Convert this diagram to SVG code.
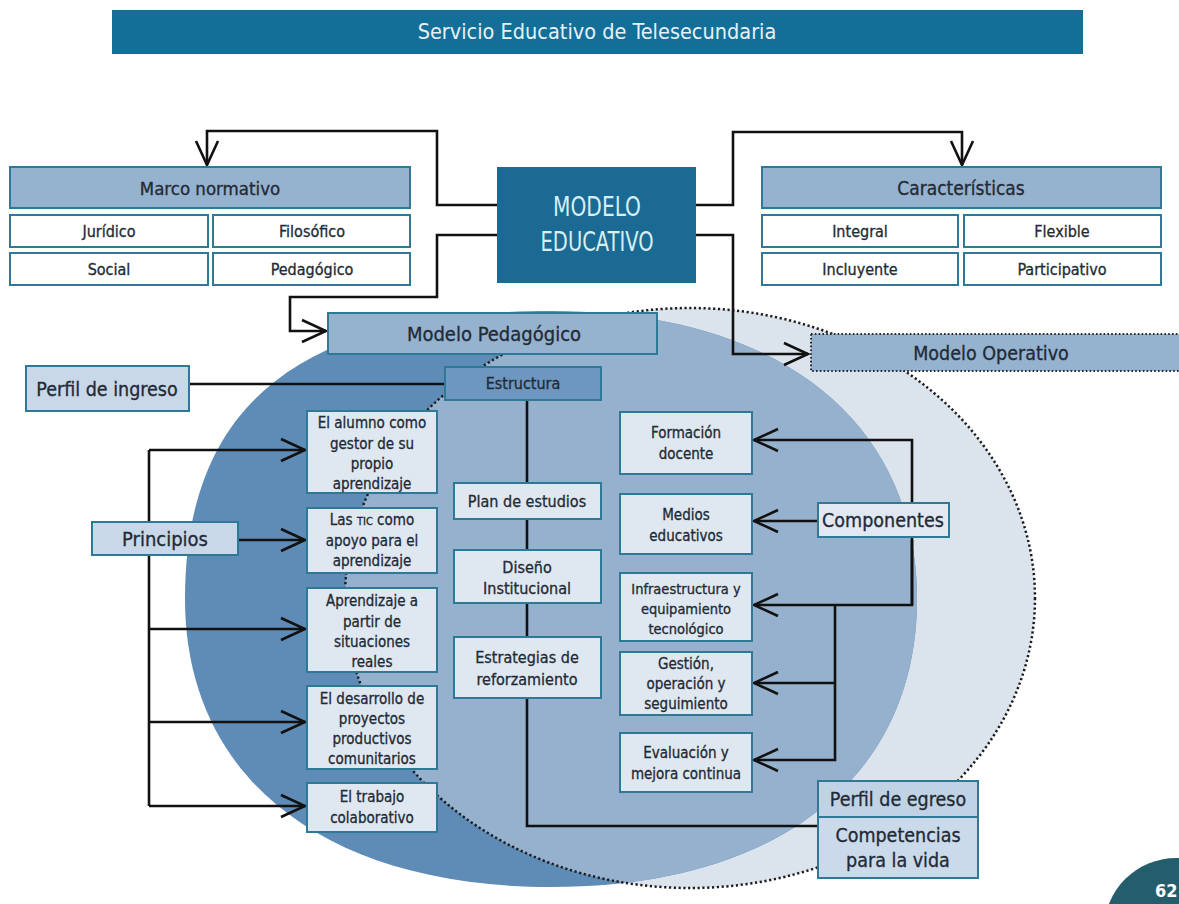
<svg xmlns="http://www.w3.org/2000/svg" width="1179" height="904" viewBox="0 0 1179 904">
<style>
text{font-family:'Liberation Sans Narrow','DejaVu Sans Condensed','Open Sans',sans-serif;fill:#222a36;stroke:#222a36;stroke-width:0.3;text-anchor:middle}
.hdr{fill:#95b2cf;stroke:#2e7a96;stroke-width:2}
.wht{fill:#ffffff;stroke:#2e7a96;stroke-width:2}
.lt{fill:#dfe7f0;stroke:#2e7a96;stroke-width:2}
.md{fill:#c9d8e8;stroke:#2e7a96;stroke-width:2}
.ln{fill:none;stroke:#111;stroke-width:2.6}
.t15{font-size:15px}
.t145{font-size:14.5px}
.t16{font-size:16px}
.t19{font-size:19px}
.t195{font-size:19.5px}
.t20{font-size:20px}
</style>
<defs>
<marker id="arr" markerUnits="userSpaceOnUse" viewBox="0 0 30 26" markerWidth="30" markerHeight="26" refX="27" refY="13" orient="auto">
<path d="M3,2 L27,13 L3,24" fill="none" stroke="#111" stroke-width="2.6"/>
</marker>
<clipPath id="lightClip"><ellipse cx="690" cy="598" rx="345" ry="290"/></clipPath>
</defs>
<rect width="1179" height="904" fill="#ffffff"/>

<g id="title">
<rect x="112" y="10" width="971" height="44" fill="#146f98"/>
<text x="597" y="39" style="font-size:21.5px;fill:#e6f2f8;stroke:none">Servicio Educativo de Telesecundaria</text>
</g>

<g id="ovals">
<ellipse cx="690" cy="598" rx="345" ry="290" fill="#dbe3ed"/>
<path d="M917,599 C917,777.6 777.9,887 551,887 C324.1,887 185,777.6 185,599 C185,403 302,311 551,311 C777.9,311 917,420.4 917,599 Z" fill="#5e8cb6"/>
<path d="M917,599 C917,777.6 777.9,887 551,887 C324.1,887 185,777.6 185,599 C185,403 302,311 551,311 C777.9,311 917,420.4 917,599 Z" fill="#95b1cd" clip-path="url(#lightClip)"/>
<ellipse cx="690" cy="598" rx="345" ry="290" fill="none" stroke="#1c1c1c" stroke-width="2.5" stroke-dasharray="2.2 2.6"/>
</g>

<g id="connectors">
<path class="ln" d="M497,205 H437 V131 H207 V165" marker-end="url(#arr)"/>
<path class="ln" d="M497,235 H437 V297 H290 V331 H326" marker-end="url(#arr)"/>
<path class="ln" d="M696,205 H733 V132 H962 V165" marker-end="url(#arr)"/>
<path class="ln" d="M696,235 H733 V354 H808" marker-end="url(#arr)"/>
<path class="ln" d="M190,384 H445"/>
<path class="ln" d="M527,401 V826 H818"/>
<path class="ln" d="M149,450 V806"/>
<path class="ln" d="M149,450 H305" marker-end="url(#arr)"/>
<path class="ln" d="M238,540 H305" marker-end="url(#arr)"/>
<path class="ln" d="M149,629 H305" marker-end="url(#arr)"/>
<path class="ln" d="M149,722 H305" marker-end="url(#arr)"/>
<path class="ln" d="M149,806 H305" marker-end="url(#arr)"/>
<path class="ln" d="M818,521 H754" marker-end="url(#arr)"/>
<path class="ln" d="M912,605 V440 H754" marker-end="url(#arr)"/>
<path class="ln" d="M912,540 V605 H754" marker-end="url(#arr)"/>
<path class="ln" d="M835,605 V760 H754" marker-end="url(#arr)"/>
<path class="ln" d="M835,683 H754" marker-end="url(#arr)"/>
</g>

<g id="marco-normativo">
<rect class="hdr" x="10" y="167" width="400" height="41"/>
<text x="210" y="195" style="font-size:18.5px">Marco normativo</text>
</g>
<g id="juridico"><rect class="wht" x="10" y="215" width="198" height="32"/><text class="t16" x="109" y="237">Jurídico</text></g>
<g id="filosofico"><rect class="wht" x="213" y="215" width="197" height="32"/><text class="t16" x="312" y="237">Filosófico</text></g>
<g id="social"><rect class="wht" x="10" y="253" width="198" height="32"/><text class="t16" x="109" y="275">Social</text></g>
<g id="pedagogico"><rect class="wht" x="213" y="253" width="197" height="32"/><text class="t16" x="312" y="275">Pedagógico</text></g>

<g id="modelo-educativo">
<rect x="497" y="167" width="199" height="116" fill="#1a6a93"/>
<text x="597" y="216" textLength="88" lengthAdjust="spacingAndGlyphs" style="font-size:26px;fill:#d6eef6;stroke:none">MODELO</text>
<text x="597" y="251" textLength="113" lengthAdjust="spacingAndGlyphs" style="font-size:26px;fill:#d6eef6;stroke:none">EDUCATIVO</text>
</g>

<g id="caracteristicas">
<rect class="hdr" x="762" y="167" width="399" height="41"/>
<text class="t19" x="961" y="195">Características</text>
</g>
<g id="integral"><rect class="wht" x="762" y="215" width="196" height="32"/><text class="t16" x="860" y="237">Integral</text></g>
<g id="flexible"><rect class="wht" x="964" y="215" width="197" height="32"/><text class="t16" x="1062" y="237">Flexible</text></g>
<g id="incluyente"><rect class="wht" x="762" y="253" width="196" height="32"/><text class="t16" x="860" y="275">Incluyente</text></g>
<g id="participativo"><rect class="wht" x="964" y="253" width="197" height="32"/><text class="t16" x="1062" y="275">Participativo</text></g>

<g id="modelo-pedagogico">
<rect class="hdr" x="328" y="313" width="329" height="41"/>
<text class="t20" x="494" y="341">Modelo Pedagógico</text>
</g>

<g id="modelo-operativo">
<rect x="811" y="334" width="380" height="37" fill="#95b2cf" stroke="#2a2a2a" stroke-width="2" stroke-dasharray="1.6 2.2"/>
<text class="t195" x="991" y="360">Modelo Operativo</text>
</g>

<g id="perfil-ingreso">
<rect class="md" x="26" y="366" width="163" height="45"/>
<text class="t195" x="107" y="396">Perfil de ingreso</text>
</g>

<g id="estructura">
<rect x="445" y="367" width="156" height="33" fill="#6e97bf" stroke="#2e7a96" stroke-width="2"/>
<text class="t16" x="523" y="389">Estructura</text>
</g>
<g id="plan-estudios"><rect class="lt" x="454" y="483" width="147" height="36"/><text class="t16" x="527" y="507">Plan de estudios</text></g>
<g id="diseno-institucional"><rect class="lt" x="454" y="550" width="147" height="53"/><text class="t16" x="527" y="573">Diseño</text><text class="t16" x="527" y="594">Institucional</text></g>
<g id="estrategias"><rect class="lt" x="454" y="637" width="147" height="61"/><text class="t16" x="527" y="663">Estrategias de</text><text class="t16" x="527" y="685">reforzamiento</text></g>

<g id="principios">
<rect class="md" x="92" y="522" width="146" height="33"/>
<text class="t20" x="165" y="546">Principios</text>
</g>
<g id="p-alumno"><rect class="lt" x="307" y="411" width="130" height="82"/>
<text class="t15" x="372" y="428">El alumno como</text><text class="t15" x="372" y="449">gestor de su</text><text class="t15" x="372" y="469">propio</text><text class="t15" x="372" y="489">aprendizaje</text></g>
<g id="p-tic"><rect class="lt" x="307" y="508" width="130" height="65"/>
<text class="t15" x="372" y="525">Las <tspan style="font-size:11px">TIC</tspan> como</text><text class="t15" x="372" y="546">apoyo para el</text><text class="t15" x="372" y="566">aprendizaje</text></g>
<g id="p-situaciones"><rect class="lt" x="307" y="588" width="130" height="84"/>
<text class="t15" x="372" y="606">Aprendizaje a</text><text class="t15" x="372" y="627">partir de</text><text class="t15" x="372" y="647">situaciones</text><text class="t15" x="372" y="667">reales</text></g>
<g id="p-proyectos"><rect class="lt" x="307" y="686" width="130" height="83"/>
<text class="t15" x="372" y="704">El desarrollo de</text><text class="t15" x="372" y="724">proyectos</text><text class="t15" x="372" y="744">productivos</text><text class="t15" x="372" y="764">comunitarios</text></g>
<g id="p-colaborativo"><rect class="lt" x="307" y="783" width="130" height="49"/>
<text class="t15" x="372" y="802">El trabajo</text><text class="t15" x="372" y="823">colaborativo</text></g>

<g id="componentes">
<rect x="818" y="503" width="131" height="34" fill="#e1e8f1" stroke="#2e7a96" stroke-width="2"/>
<text class="t195" x="883" y="527">Componentes</text>
</g>
<g id="c-formacion"><rect class="lt" x="620" y="412" width="132" height="62"/>
<text class="t15" x="686" y="438">Formación</text><text class="t15" x="686" y="459">docente</text></g>
<g id="c-medios"><rect class="lt" x="620" y="494" width="132" height="60"/>
<text class="t15" x="686" y="520">Medios</text><text class="t15" x="686" y="541">educativos</text></g>
<g id="c-infraestructura"><rect class="lt" x="620" y="573" width="132" height="68"/>
<text class="t145" x="686" y="594">Infraestructura y</text><text class="t145" x="686" y="614">equipamiento</text><text class="t145" x="686" y="634">tecnológico</text></g>
<g id="c-gestion"><rect class="lt" x="620" y="652" width="132" height="63"/>
<text class="t15" x="686" y="669">Gestión,</text><text class="t15" x="686" y="689">operación y</text><text class="t15" x="686" y="709">seguimiento</text></g>
<g id="c-evaluacion"><rect class="lt" x="620" y="733" width="132" height="59"/>
<text class="t15" x="686" y="758">Evaluación y</text><text class="t15" x="686" y="779">mejora continua</text></g>

<g id="perfil-egreso">
<rect x="818" y="781" width="160" height="36" fill="#c0d3e5" stroke="#2e7a96" stroke-width="2"/>
<rect x="818" y="817" width="160" height="61" fill="#cbdaea" stroke="#2e7a96" stroke-width="2"/>
<text class="t195" x="898" y="806">Perfil de egreso</text>
<text class="t195" x="898" y="842">Competencias</text>
<text class="t195" x="898" y="867">para la vida</text>
</g>

<g id="page-number">
<circle cx="1176" cy="930" r="72" fill="#245e6d"/>
<text x="1155" y="897" style="font-size:18px;font-weight:bold;fill:#ffffff;stroke:none;text-anchor:start">62</text>
</g>
</svg>
